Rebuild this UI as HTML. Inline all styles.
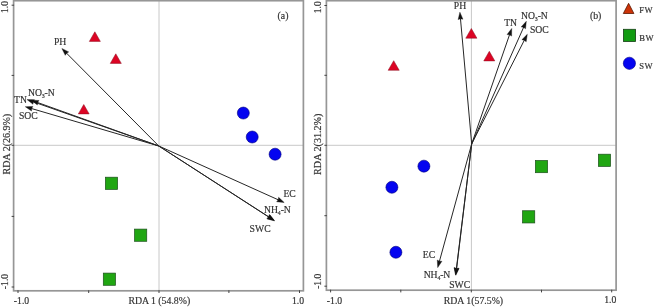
<!DOCTYPE html>
<html><head><meta charset="utf-8"><style>
html,body{margin:0;padding:0;background:#fff;width:654px;height:307px;overflow:hidden}
svg{display:block;filter:blur(0.25px)}
text{font-family:"Liberation Serif",serif;fill:#333;stroke:#333;stroke-width:0.18px}
</style></head><body>
<svg width="654" height="307" viewBox="0 0 654 307">
<rect width="654" height="307" fill="#fff"/>
<line x1="159" y1="0.7" x2="159" y2="290.8" stroke="#c8c8c8" stroke-width="1"/><line x1="13.6" y1="145.3" x2="303.4" y2="145.3" stroke="#c8c8c8" stroke-width="1"/><rect x="13.6" y="0.7" width="289.79999999999995" height="290.1" fill="none" stroke="#969696" stroke-width="1.7"/><line x1="18" y1="290.3" x2="18" y2="293.0" stroke="#444" stroke-width="1"/><line x1="88.7" y1="290.3" x2="88.7" y2="293.0" stroke="#444" stroke-width="1"/><line x1="159" y1="290.3" x2="159" y2="293.0" stroke="#444" stroke-width="1"/><line x1="228.9" y1="290.3" x2="228.9" y2="293.0" stroke="#444" stroke-width="1"/><line x1="299.5" y1="290.3" x2="299.5" y2="293.0" stroke="#444" stroke-width="1"/><line x1="11.6" y1="5.2" x2="14.1" y2="5.2" stroke="#444" stroke-width="1"/><line x1="11.6" y1="75.4" x2="14.1" y2="75.4" stroke="#444" stroke-width="1"/><line x1="11.6" y1="145.3" x2="14.1" y2="145.3" stroke="#444" stroke-width="1"/><line x1="11.6" y1="216.4" x2="14.1" y2="216.4" stroke="#444" stroke-width="1"/><line x1="11.6" y1="287" x2="14.1" y2="287" stroke="#444" stroke-width="1"/>
<text transform="translate(8.2,7.0) rotate(-90)" font-size="9.7" text-anchor="middle">1.0</text>
<text transform="translate(8.2,281.5) rotate(-90)" font-size="9.7" text-anchor="middle">-1.0</text>
<text x="21.5" y="303.6" font-size="9.7" text-anchor="middle" >-1.0</text>
<text x="298" y="303.6" font-size="9.7" text-anchor="middle" >1.0</text>
<text x="159.3" y="303.6" font-size="9.8" text-anchor="middle" >RDA 1 (54.8%)</text>
<text transform="translate(9.7,174.4) rotate(-90)" font-size="10" text-anchor="start">RDA 2(26.9%)</text>
<text x="283" y="19.2" font-size="9.8" text-anchor="middle" >(a)</text>
<line x1="158.80" y1="146.00" x2="66.27" y2="52.90" stroke="#262626" stroke-width="1.0"/><path d="M61.90,48.50 L68.68,51.92 L66.55,53.18 L65.27,55.30 Z" fill="#111" stroke="#111" stroke-width="0.4" stroke-linejoin="miter"/>
<line x1="158.80" y1="146.00" x2="32.85" y2="101.66" stroke="#262626" stroke-width="1.0"/><path d="M27.00,99.60 L34.59,99.73 L33.23,101.79 L32.99,104.25 Z" fill="#111" stroke="#111" stroke-width="0.4" stroke-linejoin="miter"/>
<line x1="158.80" y1="146.00" x2="37.24" y2="102.39" stroke="#262626" stroke-width="1.0"/><path d="M31.40,100.30 L38.99,100.47 L37.61,102.53 L37.37,104.99 Z" fill="#111" stroke="#111" stroke-width="0.4" stroke-linejoin="miter"/>
<line x1="158.80" y1="146.00" x2="31.25" y2="108.45" stroke="#262626" stroke-width="1.0"/><path d="M25.30,106.70 L32.88,106.43 L31.63,108.56 L31.53,111.04 Z" fill="#111" stroke="#111" stroke-width="0.4" stroke-linejoin="miter"/>
<line x1="158.80" y1="146.00" x2="278.55" y2="199.95" stroke="#262626" stroke-width="1.0"/><path d="M284.20,202.50 L276.65,201.73 L278.18,199.79 L278.62,197.35 Z" fill="#111" stroke="#111" stroke-width="0.4" stroke-linejoin="miter"/>
<line x1="158.80" y1="146.00" x2="268.89" y2="216.94" stroke="#262626" stroke-width="1.0"/><path d="M274.10,220.30 L266.75,218.42 L268.55,216.72 L269.35,214.38 Z" fill="#111" stroke="#111" stroke-width="0.4" stroke-linejoin="miter"/>
<line x1="158.80" y1="146.00" x2="269.49" y2="217.53" stroke="#262626" stroke-width="1.0"/><path d="M274.70,220.90 L267.35,219.01 L269.16,217.32 L269.96,214.98 Z" fill="#111" stroke="#111" stroke-width="0.4" stroke-linejoin="miter"/>
<text x="60.1" y="45.3" font-size="9.7" text-anchor="middle" >PH</text>
<text x="28.0" y="95.6" font-size="9.7" letter-spacing="-0.12">NO<tspan font-size="5.8" dy="2">3</tspan><tspan dy="-2">-N</tspan></text>
<text x="20.45" y="102.8" font-size="9.7" text-anchor="middle" >TN</text>
<text x="28.35" y="119" font-size="9.7" text-anchor="middle" >SOC</text>
<text x="289.6" y="196.9" font-size="9.7" text-anchor="middle" >EC</text>
<text x="264.1" y="213.4" font-size="9.7" letter-spacing="-0.12">NH<tspan font-size="5.8" dy="2">4</tspan><tspan dy="-2">-N</tspan></text>
<text x="260.1" y="232" font-size="9.7" text-anchor="middle" >SWC</text>
<path d="M94.85,31.80 L100.37,41.40 L89.33,41.40 Z" fill="#dc0424" stroke="#8a1020" stroke-width="0.5" stroke-linejoin="round"/>
<path d="M115.80,53.80 L121.32,63.40 L110.28,63.40 Z" fill="#dc0424" stroke="#8a1020" stroke-width="0.5" stroke-linejoin="round"/>
<path d="M83.75,104.50 L89.16,113.90 L78.34,113.90 Z" fill="#dc0424" stroke="#8a1020" stroke-width="0.5" stroke-linejoin="round"/>
<circle cx="243.3" cy="113.05" r="6.0" fill="#0404f0" stroke="#00007a" stroke-width="0.6"/>
<circle cx="252.2" cy="137" r="6.0" fill="#0404f0" stroke="#00007a" stroke-width="0.6"/>
<circle cx="275.1" cy="154.2" r="6.0" fill="#0404f0" stroke="#00007a" stroke-width="0.6"/>
<rect x="105.40" y="177.20" width="12.20" height="12.20" fill="#20a612" stroke="#1d4f1d" stroke-width="0.7"/>
<rect x="134.55" y="229.10" width="12.20" height="12.20" fill="#20a612" stroke="#1d4f1d" stroke-width="0.7"/>
<rect x="103.30" y="273.10" width="12.20" height="12.20" fill="#20a612" stroke="#1d4f1d" stroke-width="0.7"/>
<line x1="471.4" y1="0.7" x2="471.4" y2="290.2" stroke="#c8c8c8" stroke-width="1"/><line x1="326.4" y1="145.3" x2="616.1" y2="145.3" stroke="#c8c8c8" stroke-width="1"/><rect x="326.4" y="0.7" width="289.70000000000005" height="289.5" fill="none" stroke="#969696" stroke-width="1.7"/><line x1="330.6" y1="289.7" x2="330.6" y2="292.4" stroke="#444" stroke-width="1"/><line x1="400.8" y1="289.7" x2="400.8" y2="292.4" stroke="#444" stroke-width="1"/><line x1="471.3" y1="289.7" x2="471.3" y2="292.4" stroke="#444" stroke-width="1"/><line x1="541.5" y1="289.7" x2="541.5" y2="292.4" stroke="#444" stroke-width="1"/><line x1="611.7" y1="289.7" x2="611.7" y2="292.4" stroke="#444" stroke-width="1"/><line x1="324.4" y1="5.5" x2="326.9" y2="5.5" stroke="#444" stroke-width="1"/><line x1="324.4" y1="75.3" x2="326.9" y2="75.3" stroke="#444" stroke-width="1"/><line x1="324.4" y1="145.3" x2="326.9" y2="145.3" stroke="#444" stroke-width="1"/><line x1="324.4" y1="215.7" x2="326.9" y2="215.7" stroke="#444" stroke-width="1"/><line x1="324.4" y1="286.2" x2="326.9" y2="286.2" stroke="#444" stroke-width="1"/>
<text transform="translate(320.6,7.2) rotate(-90)" font-size="9.7" text-anchor="middle">1.0</text>
<text transform="translate(320.6,281.2) rotate(-90)" font-size="9.7" text-anchor="middle">-1.0</text>
<text x="334.5" y="303.8" font-size="9.7" text-anchor="middle" >-1.0</text>
<text x="610.2" y="303.4" font-size="9.7" text-anchor="middle" >1.0</text>
<text x="473.4" y="303.8" font-size="9.8" text-anchor="middle" >RDA 1(57.5%)</text>
<text transform="translate(321.2,174.9) rotate(-90)" font-size="10.15" text-anchor="start">RDA 2(31.2%)</text>
<text x="595.6" y="19.4" font-size="9.8" text-anchor="middle" >(b)</text>
<line x1="471.70" y1="143.90" x2="460.45" y2="18.38" stroke="#262626" stroke-width="1.0"/><path d="M459.90,12.20 L462.93,19.16 L460.49,18.77 L458.15,19.59 Z" fill="#111" stroke="#111" stroke-width="0.4" stroke-linejoin="miter"/>
<line x1="471.70" y1="143.90" x2="509.67" y2="34.36" stroke="#262626" stroke-width="1.0"/><path d="M511.70,28.50 L511.61,36.09 L509.54,34.74 L507.07,34.52 Z" fill="#111" stroke="#111" stroke-width="0.4" stroke-linejoin="miter"/>
<line x1="471.70" y1="143.90" x2="523.78" y2="26.96" stroke="#262626" stroke-width="1.0"/><path d="M526.30,21.30 L525.56,28.85 L523.61,27.33 L521.18,26.90 Z" fill="#111" stroke="#111" stroke-width="0.4" stroke-linejoin="miter"/>
<line x1="471.70" y1="143.90" x2="524.50" y2="39.83" stroke="#262626" stroke-width="1.0"/><path d="M527.30,34.30 L526.18,41.81 L524.31,40.19 L521.90,39.64 Z" fill="#111" stroke="#111" stroke-width="0.4" stroke-linejoin="miter"/>
<line x1="471.70" y1="143.90" x2="439.34" y2="261.62" stroke="#262626" stroke-width="1.0"/><path d="M437.70,267.60 L437.29,260.02 L439.45,261.24 L441.92,261.29 Z" fill="#111" stroke="#111" stroke-width="0.4" stroke-linejoin="miter"/>
<line x1="471.70" y1="143.90" x2="456.36" y2="268.85" stroke="#262626" stroke-width="1.0"/><path d="M455.60,275.00 L454.10,267.56 L456.40,268.45 L458.86,268.15 Z" fill="#111" stroke="#111" stroke-width="0.4" stroke-linejoin="miter"/>
<line x1="471.70" y1="143.90" x2="456.54" y2="269.14" stroke="#262626" stroke-width="1.0"/><path d="M455.80,275.30 L454.28,267.86 L456.59,268.75 L459.05,268.44 Z" fill="#111" stroke="#111" stroke-width="0.4" stroke-linejoin="miter"/>
<text x="460" y="9" font-size="9.7" text-anchor="middle" >PH</text>
<text x="510.65" y="26.1" font-size="9.7" text-anchor="middle" >TN</text>
<text x="521.1" y="19.1" font-size="9.7" letter-spacing="-0.12">NO<tspan font-size="5.8" dy="2">3</tspan><tspan dy="-2">-N</tspan></text>
<text x="539.35" y="33" font-size="9.7" text-anchor="middle" >SOC</text>
<text x="429" y="257.5" font-size="9.7" text-anchor="middle" >EC</text>
<text x="423.7" y="277.6" font-size="9.7" letter-spacing="-0.12">NH<tspan font-size="5.8" dy="2">4</tspan><tspan dy="-2">-N</tspan></text>
<text x="459.7" y="287.5" font-size="9.7" text-anchor="middle" >SWC</text>
<path d="M471.35,28.50 L476.93,38.20 L465.77,38.20 Z" fill="#dc0424" stroke="#8a1020" stroke-width="0.5" stroke-linejoin="round"/>
<path d="M489.30,51.30 L494.82,60.90 L483.78,60.90 Z" fill="#dc0424" stroke="#8a1020" stroke-width="0.5" stroke-linejoin="round"/>
<path d="M393.70,60.70 L399.22,70.30 L388.18,70.30 Z" fill="#dc0424" stroke="#8a1020" stroke-width="0.5" stroke-linejoin="round"/>
<circle cx="423.9" cy="166.15" r="6.0" fill="#0404f0" stroke="#00007a" stroke-width="0.6"/>
<circle cx="391.9" cy="187.25" r="6.0" fill="#0404f0" stroke="#00007a" stroke-width="0.6"/>
<circle cx="395.9" cy="252.25" r="6.0" fill="#0404f0" stroke="#00007a" stroke-width="0.6"/>
<rect x="535.40" y="160.50" width="12.20" height="12.20" fill="#20a612" stroke="#1d4f1d" stroke-width="0.7"/>
<rect x="598.40" y="154.20" width="12.20" height="12.20" fill="#20a612" stroke="#1d4f1d" stroke-width="0.7"/>
<rect x="522.55" y="210.75" width="12.20" height="12.20" fill="#20a612" stroke="#1d4f1d" stroke-width="0.7"/>
<path d="M628.6,3.3 L633.9,13.5 L623.3,13.5 Z" fill="#cc3308" stroke="#5a1800" stroke-width="0.8" stroke-linejoin="round"/>
<rect x="623.5" y="29.3" width="12.1" height="12.2" fill="#129c12" stroke="#163f16" stroke-width="0.8"/>
<circle cx="629.4" cy="63.3" r="6.1" fill="#0404f0" stroke="#00008a" stroke-width="0.6"/>
<text x="639.2" y="12.9" font-size="8.6" text-anchor="start" letter-spacing="0.5">FW</text>
<text x="639.2" y="41" font-size="8.6" text-anchor="start" letter-spacing="0.5">BW</text>
<text x="639.2" y="68.9" font-size="8.6" text-anchor="start" letter-spacing="0.5">SW</text>
</svg>
</body></html>
